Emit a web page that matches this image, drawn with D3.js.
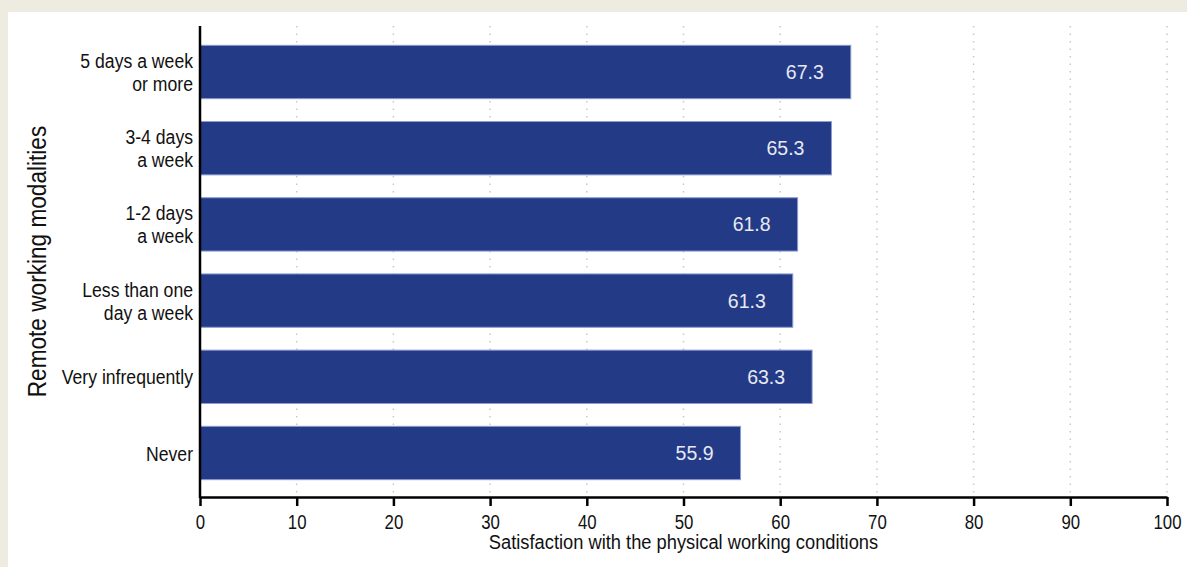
<!DOCTYPE html>
<html><head><meta charset="utf-8">
<script src="https://cdn.jsdelivr.net/npm/d3@7"></script>
<style>
html,body{margin:0;padding:0;background:#eeebe1;}
svg{display:block;}
</style></head>
<body>
<svg id="chart" width="1187" height="567"></svg>
<script>
const categories = [["5 days a week","or more"],["3-4 days","a week"],["1-2 days","a week"],["Less than one","day a week"],["Very infrequently"],["Never"]];
const values = [67.3, 65.3, 61.8, 61.3, 63.3, 55.9];
const xTicks = [0,10,20,30,40,50,60,70,80,90,100];
const xTitle = "Satisfaction with the physical working conditions";
const yTitle = "Remote working modalities";

const svg = d3.select("#chart");
const font = "'Liberation Sans',Arial,sans-serif";
svg.append("rect").attr("x",8).attr("y",12).attr("width",1179).attr("height",555).attr("fill","#ffffff");

const x0 = 200, x1 = 1167, yTop = 26, yBot = 497;
const x = d3.scaleLinear().domain([0,100]).range([x0,x1]);
const keys = categories.map((c,i)=>i);
const y = d3.scaleBand().domain(keys).range([33.9,491.1]).paddingInner(0.3).paddingOuter(0.15);

// grid
svg.append("g").selectAll("line").data(xTicks.filter(t=>t>0)).join("line")
  .attr("x1",d=>x(d)).attr("x2",d=>x(d)).attr("y1",yTop).attr("y2",yBot)
  .attr("stroke","#c8c8c8").attr("stroke-width",1.5).attr("stroke-dasharray","1.5,6");

// bars
svg.append("g").selectAll("rect").data(values).join("rect")
  .attr("x",x(0)).attr("y",(d,i)=>y(i)).attr("width",d=>x(d)-x(0)).attr("height",y.bandwidth())
  .attr("fill","#233a86").attr("stroke","#8c9bd0").attr("stroke-width",1);

// value labels
svg.append("g").selectAll("text").data(values).join("text")
  .attr("x",d=>x(d)-27).attr("y",(d,i)=>y(i)+y.bandwidth()/2+7)
  .attr("text-anchor","end").attr("fill","#e8e9f2")
  .attr("font-family",font).attr("font-size",19.5)
  .text(d=>d.toFixed(1));

// x axis
const xAxis = d3.axisBottom(x).tickValues(xTicks).tickSize(9).tickSizeOuter(0).tickPadding(8);
const gx = svg.append("g").attr("transform",`translate(0,${yBot})`).call(xAxis);
gx.select(".domain").attr("stroke","#000").attr("stroke-width",2.5);
gx.selectAll(".tick line").attr("stroke","#000").attr("stroke-width",2.5);
gx.selectAll(".tick text").attr("font-family",font).attr("font-size",21).attr("fill","#111")
  .attr("transform","scale(0.8,1)");

// y axis line
svg.append("line").attr("x1",x0).attr("x2",x0).attr("y1",yTop).attr("y2",yBot+1)
  .attr("stroke","#000").attr("stroke-width",2.5);

// category labels
const cl = svg.append("g").selectAll("text").data(categories).join("text")
  .attr("text-anchor","end").attr("font-family",font).attr("font-size",21).attr("fill","#111")
  .attr("transform",(lines,i)=>{
    const cy = y(i)+y.bandwidth()/2;
    const start = cy - (lines.length-1)*23/2 + 7.5;
    return `translate(${x0-7},${start}) scale(0.84,1)`;
  });
cl.each(function(lines){
  const t = d3.select(this);
  lines.forEach((l,j)=>{
    t.append("tspan").attr("x",0).attr("y",j*23).text(l);
  });
});

// titles
svg.append("text").attr("transform",`translate(${(x0+x1)/2},549) scale(0.915,1)`).attr("text-anchor","middle")
  .attr("font-family",font).attr("font-size",20).attr("fill","#111").text(xTitle);
svg.append("text").attr("transform",`translate(46,${(yTop+yBot)/2}) rotate(-90) scale(0.87,1)`)
  .attr("text-anchor","middle").attr("font-family",font).attr("font-size",26).attr("fill","#111").text(yTitle);
</script>
</body></html>
